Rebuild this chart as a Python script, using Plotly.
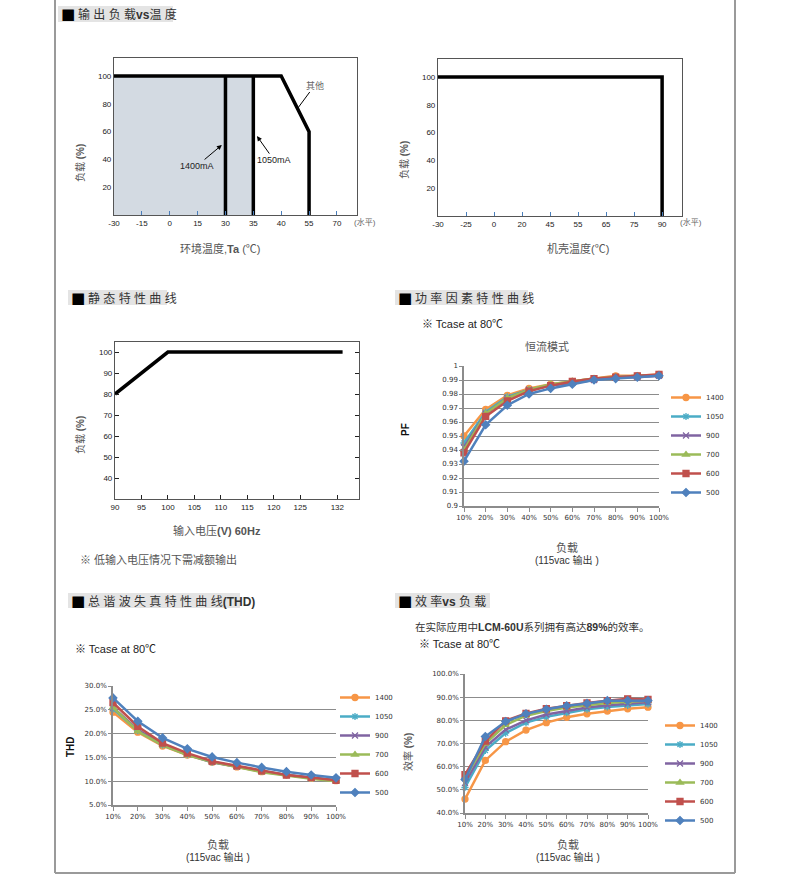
import plotly.graph_objects as go

# page size in px (browser window)
W, H = 789, 881

# ---------------- data ----------------
temp_ticks = ["-30", "-15", "0", "15", "30", "35", "40", "55", "70"]
derate_temp = ["-30", "40", "55", "55"]
derate_load = [100, 100, 60, 0]
area_temp = ["-30", "35", "35", "-30"]
area_load = [0, 0, 100, 100]
cut_1400 = "30"
cut_1050 = "35"

case_ticks = ["-30", "-25", "0", "20", "45", "55", "65", "75", "90"]
case_temp = ["-30", "90", "90"]
case_load = [100, 100, 0]

load_ticks = [20, 40, 60, 80, 100]

vin_ticks = [90, 95, 100, 105, 110, 115, 120, 125, 132]
vin = [90, 100, 133]
vin_load = [80, 100, 100]

load_pct = ["10%", "20%", "30%", "40%", "50%", "60%", "70%", "80%", "90%", "100%"]
series_names = ["1400", "1050", "900", "700", "600", "500"]

pf_ticks = [0.9, 0.91, 0.92, 0.93, 0.94, 0.95, 0.96, 0.97, 0.98, 0.99, 1]
pf_values = [
    [0.950, 0.969, 0.979, 0.984, 0.987, 0.989, 0.991, 0.993, 0.993, 0.994],
    [0.945, 0.967, 0.978, 0.983, 0.986, 0.988, 0.990, 0.992, 0.993, 0.993],
    [0.942, 0.966, 0.977, 0.983, 0.986, 0.988, 0.990, 0.992, 0.992, 0.993],
    [0.940, 0.966, 0.977, 0.983, 0.987, 0.989, 0.991, 0.992, 0.993, 0.993],
    [0.938, 0.964, 0.975, 0.982, 0.986, 0.989, 0.991, 0.992, 0.993, 0.994],
    [0.932, 0.958, 0.972, 0.980, 0.984, 0.987, 0.990, 0.991, 0.992, 0.993],
]
thd_values = [
    [24.5, 20.3, 17.4, 15.5, 14.0, 13.0, 12.0, 11.3, 10.6, 10.1],
    [25.2, 20.6, 17.6, 15.6, 14.0, 13.1, 12.1, 11.3, 10.7, 10.2],
    [25.5, 20.8, 17.8, 15.7, 14.1, 13.1, 12.1, 11.3, 10.7, 10.2],
    [25.5, 20.5, 17.6, 15.5, 14.1, 13.0, 11.9, 11.2, 10.5, 10.0],
    [26.5, 21.5, 18.0, 15.9, 14.2, 13.2, 12.2, 11.3, 10.8, 10.2],
    [27.5, 22.6, 19.1, 16.8, 15.1, 13.9, 12.9, 12.0, 11.3, 10.7],
]
eff_values = [
    [46.0, 62.7, 70.8, 75.8, 79.0, 81.3, 82.8, 84.0, 85.0, 85.7],
    [51.0, 67.0, 74.5, 79.0, 81.5, 83.3, 84.8, 85.8, 86.5, 87.0],
    [53.0, 68.5, 76.0, 80.0, 82.5, 84.0, 85.5, 86.5, 87.2, 87.8],
    [55.0, 70.0, 78.0, 82.0, 84.0, 85.5, 86.5, 87.5, 88.0, 88.5],
    [56.5, 71.0, 79.8, 83.0, 85.0, 86.3, 87.5, 88.5, 89.3, 89.0],
    [54.5, 73.0, 79.5, 82.8, 84.8, 86.3, 87.3, 88.5, 88.5, 88.5],
]

# excel-ish styling per series
colors = ["#F79646", "#4BACC6", "#8064A2", "#9BBB59", "#C0504D", "#4F81BD"]
symbols = ["circle", "asterisk-open", "x-thin-open", "triangle-up", "square", "diamond"]

CJK = "Liberation Sans, Noto Sans CJK SC, sans-serif"
BLUE_TICK = "#4a7ebb"


# ---------------- helpers ----------------
def dom_x(a, b):
    return [a / W, b / W]


def dom_y(top, bottom):
    return [1 - bottom / H, 1 - top / H]


def px(x):
    return x / W


def py(y):
    return 1 - y / H


fig = go.Figure()

# ---------- (1) output load vs ambient temperature ----------
fig.add_trace(go.Scatter(x=area_temp, y=area_load, mode="lines", fill="toself",
                         fillcolor="#d3dae2", line=dict(width=0), xaxis="x", yaxis="y",
                         showlegend=False, hoverinfo="skip"))
for t in (cut_1400, cut_1050):
    fig.add_trace(go.Scatter(x=[t, t], y=[0, 100], mode="lines",
                             line=dict(color="black", width=3.5), xaxis="x", yaxis="y",
                             showlegend=False))
fig.add_trace(go.Scatter(x=derate_temp, y=derate_load, mode="lines",
                         line=dict(color="black", width=3.5), xaxis="x", yaxis="y",
                         showlegend=False))

# ---------- (2) output load vs case temperature ----------
fig.add_trace(go.Scatter(x=case_temp, y=case_load, mode="lines",
                         line=dict(color="black", width=3.5), xaxis="x2", yaxis="y2",
                         showlegend=False))

# ---------- (3) static characteristic ----------
fig.add_trace(go.Scatter(x=vin, y=vin_load, mode="lines",
                         line=dict(color="black", width=3.5), xaxis="x3", yaxis="y3",
                         showlegend=False))

# ---------- (4,5,6) PF / THD / efficiency ----------
for vals, ax, lg in ((pf_values, "4", "legend"), (thd_values, "5", "legend2"),
                     (eff_values, "6", "legend3")):
    for name, v, c, s in zip(series_names, vals, colors, symbols):
        fig.add_trace(go.Scatter(
            x=load_pct, y=v, name=name, mode="lines+markers",
            line=dict(color=c, width=2.5),
            marker=dict(symbol=s, size=6, color=c, line=dict(color=c, width=1.3)),
            cliponaxis=False, xaxis="x" + ax, yaxis="y" + ax, legend=lg,
        ))

# ---------------- axes ----------------
tick_font = dict(family="Liberation Sans Narrow, Liberation Sans, Arial", size=8, color="#222")
xl_font = dict(family="DejaVu Sans, Verdana", size=7, color="#333")

frame = dict(showline=True, linecolor="#555", linewidth=1.2, showgrid=False,
             zeroline=False, ticks="inside", ticklen=4, tickfont=tick_font,
             fixedrange=True, automargin=False, tickangle=0)

# right-hand tick strip (ticks only on the right side, like the datasheet)
right_ticks = dict(side="right", ticks="inside", ticklen=4, tickcolor=BLUE_TICK,
                   showticklabels=False, showgrid=False, zeroline=False, showline=False,
                   range=[0, 113], tickvals=load_ticks, fixedrange=True, automargin=False)

excel_x = dict(type="category", range=[0, 9], showline=True, linecolor="#8c8c8c",
               linewidth=1.5, showgrid=False, ticks="outside", ticklen=4,
               tickcolor="#8c8c8c", tickfont=xl_font, fixedrange=True,
               automargin=False, tickangle=0)
excel_y = dict(showline=True, linecolor="#8c8c8c", linewidth=1.5, showgrid=True,
               gridcolor="#8c8c8c", gridwidth=1.3, zeroline=False, ticks="outside",
               ticklen=3, tickcolor="#8c8c8c", tickfont=xl_font, fixedrange=True,
               automargin=False)

fig.update_layout(
    template="none",
    xaxis=dict(frame, domain=dom_x(114, 357), anchor="y", type="category",
               categoryorder="array", categoryarray=temp_ticks, range=[0, 8.72],
               tickcolor=BLUE_TICK, mirror=True),
    yaxis=dict(frame, domain=dom_y(58, 215), anchor="x", range=[0, 113],
               tickvals=load_ticks, ticks="", mirror=True),
    yaxis7=dict(right_ticks, overlaying="y", anchor="x"),
    xaxis2=dict(frame, domain=dom_x(438, 682), anchor="y2", type="category",
                categoryorder="array", categoryarray=case_ticks, range=[0, 8.71],
                tickcolor=BLUE_TICK, mirror=True),
    yaxis2=dict(frame, domain=dom_y(59, 216), anchor="x2", range=[0, 113],
                tickvals=load_ticks, ticks="", mirror=True),
    yaxis8=dict(right_ticks, overlaying="y2", anchor="x2"),
    xaxis3=dict(frame, domain=dom_x(115, 359), anchor="y3", range=[90, 136.1],
                tickvals=vin_ticks, tickcolor="#222", mirror=True),
    yaxis3=dict(frame, domain=dom_y(342, 499), anchor="x3", range=[30, 104.8],
                tickvals=[40, 50, 60, 70, 80, 90, 100], tickcolor="#222", mirror="ticks"),
    xaxis4=dict(excel_x, domain=dom_x(464, 659), anchor="y4"),
    yaxis4=dict(excel_y, domain=dom_y(366, 506), anchor="x4", range=[0.9, 1.0],
                tickvals=pf_ticks),
    xaxis5=dict(excel_x, domain=dom_x(113, 336), anchor="y5"),
    yaxis5=dict(excel_y, domain=dom_y(686, 805), anchor="x5", range=[5, 30], dtick=5,
                tickformat=".1f", ticksuffix="%"),
    xaxis6=dict(excel_x, domain=dom_x(465, 648), anchor="y6"),
    yaxis6=dict(excel_y, domain=dom_y(674, 813), anchor="x6", range=[40, 100], dtick=10,
                tickformat=".1f", ticksuffix="%"),
)

leg = dict(font=dict(family="DejaVu Sans, Verdana", size=7, color="#333"),
           bgcolor="rgba(0,0,0,0)", itemwidth=30, xanchor="left", yanchor="top",
           tracegroupgap=0, itemclick=False, itemdoubleclick=False, borderwidth=0)
fig.update_layout(
    legend=dict(leg, x=px(666), y=py(383)),
    legend2=dict(leg, x=px(335), y=py(683)),
    legend3=dict(leg, x=px(660), y=py(711)),
)

# ---------------- texts ----------------
ann = []


def text(x, y, s, size=11, color="#555", angle=0, xanchor="center", family=CJK):
    ann.append(dict(x=px(x), y=py(y), xref="paper", yref="paper", text=s, showarrow=False,
                    textangle=angle, xanchor=xanchor, yanchor="middle",
                    font=dict(family=family, size=size, color=color)))


# section headers: gray box + black square + title
headers = [
    (58, 173, 6, 22, "输 出 负 载<b>vs</b>温 度"),
    (68, 167, 290, 305, "静 态 特 性 曲 线"),
    (395, 528, 290, 305, "功 率 因 素 特 性 曲 线"),
    (68, 240, 593, 608, "总 谐 波 失 真 特 性 曲 线<b>(THD)</b>"),
    (395, 490, 593, 608, "效 率<b>vs</b> 负 载"),
]
shapes = []
for x0, x1, y0, y1, s in headers:
    shapes.append(dict(type="rect", xref="paper", yref="paper", x0=px(x0), x1=px(x1),
                       y0=py(y1), y1=py(y0), fillcolor="#e4e4e4", line=dict(width=0),
                       layer="below"))
    text(x0 + 1, (y0 + y1) / 2 + 0.5, "■", size=15, color="black", xanchor="left",
         family="DejaVu Sans, sans-serif")
    text(x0 + 18, (y0 + y1) / 2 + 0.5, s, size=12, color="#333", xanchor="left")

# page frame
for x0, y0, x1, y1 in ((55, 0, 55, 873), (735, 0, 735, 873), (55, 873, 735, 873)):
    shapes.append(dict(type="line", xref="paper", yref="paper", x0=px(x0), y0=py(y0),
                       x1=px(x1), y1=py(y1), line=dict(color="#9a9a9a", width=2)))

# chart 1 / 2 labels
text(80, 163, "负载 <b>(%)</b>", size=10, angle=-90)
text(220, 248, "环境温度,<b>Ta</b> (℃)", size=11)
text(365, 222, "(水平)", size=8, color="#666")
text(404, 160, "负载 <b>(%)</b>", size=10, angle=-90)
text(578, 248, "机壳温度(℃)", size=11)
text(691, 222, "(水平)", size=8, color="#666")

# arrows on chart 1
ann.append(dict(x=3.87, y=50.4, xref="x", yref="y", text="1400mA", ax=-25, ay=21,
                showarrow=True, arrowhead=2, arrowsize=1, arrowwidth=1, arrowcolor="black",
                font=dict(family="Liberation Sans Narrow, Liberation Sans", size=9,
                          color="#222")))
ann.append(dict(x=5.13, y=56.8, xref="x", yref="y", text="1050mA", ax=17, ay=24,
                showarrow=True, arrowhead=2, arrowsize=1, arrowwidth=1, arrowcolor="black",
                font=dict(family="Liberation Sans Narrow, Liberation Sans", size=9,
                          color="#222")))
ann.append(dict(x=6.6, y=77, xref="x", yref="y", text="其他", ax=17, ay=-23,
                showarrow=True, arrowhead=0, arrowwidth=1, arrowcolor="black",
                font=dict(family=CJK, size=9, color="#666")))

# chart 3 labels
text(80, 435, "负载 <b>(%)</b>", size=10, angle=-90)
text(217, 530, "输入电压<b>(V) 60Hz</b>", size=11)
text(78, 559, "※ 低输入电压情况下需减额输出", size=11, color="#555", xanchor="left")

# PF labels
text(420, 324, "※ Tcase at 80℃", size=11, color="#222", xanchor="left")
text(547, 346, "恒流模式", size=11, color="#555")
text(406, 430, "<b>PF</b>", size=10, color="#111", angle=-90)
text(567, 547, "负载", size=11)
text(567, 560, "(115vac 输出 )", size=10, color="#333")

# THD labels
text(73, 649, "※ Tcase at 80℃", size=11, color="#222", xanchor="left")
text(70, 747, "<b>THD</b>", size=10, color="#111", angle=-90)
text(218, 844, "负载", size=11)
text(218, 857, "(115vac 输出 )", size=10, color="#333")

# efficiency labels
text(413, 627, "在实际应用中<b>LCM-60U</b>系列拥有高达<b>89%</b>的效率。", size=10.5,
     color="#333", xanchor="left")
text(417, 644, "※ Tcase at 80℃", size=11, color="#222", xanchor="left")
text(408, 752, "效率 <b>(%)</b>", size=10, angle=-90)
text(568, 844, "负载", size=11)
text(568, 857, "(115vac 输出 )", size=10, color="#333")

fig.update_layout(
    width=W, height=H, margin=dict(l=0, r=0, t=0, b=0, pad=0), autosize=False,
    paper_bgcolor="white", plot_bgcolor="white",
    font=dict(family=CJK, size=10, color="#333"),
    annotations=ann, shapes=shapes,
)

# drop the browser's default body margin so the figure sits at the window origin
fig.write_html("out.html", config={"displayModeBar": False},
               post_script="document.body.style.margin='0';"
                           "document.body.style.overflow='hidden';")
